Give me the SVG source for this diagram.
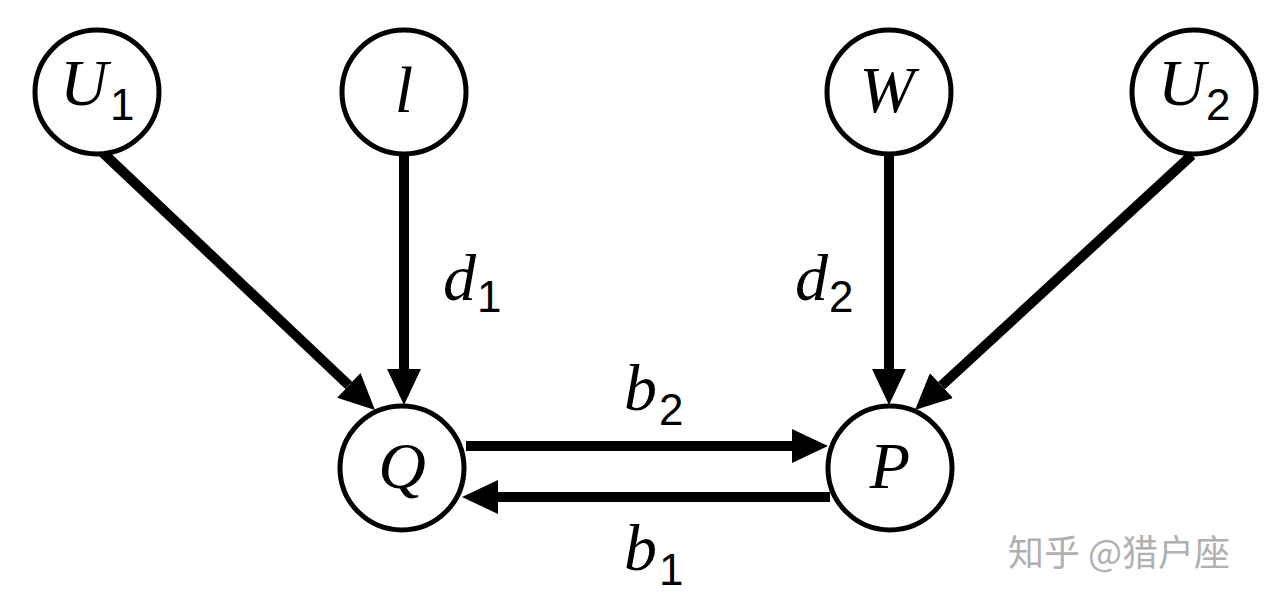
<svg xmlns="http://www.w3.org/2000/svg" width="1278" height="604" viewBox="0 0 1278 604">
<defs>
<style>
.node{fill:#fff;stroke:#000;stroke-width:5}
.edge{stroke:#000;stroke-width:10;fill:none}
.m{font-family:'Liberation Serif','DejaVu Serif',serif;font-style:italic;font-size:66px;fill:#000}
.s{font-family:'Liberation Sans','DejaVu Sans',sans-serif;font-size:44px;fill:#000}
.wm{font-family:'Noto Sans CJK SC',sans-serif;font-size:36px;fill:#b0b0b0}
</style>
<marker id="ah" viewBox="0 0 36 34" refX="0" refY="17" markerWidth="36" markerHeight="34" markerUnits="userSpaceOnUse" orient="auto">
<path d="M0,0 L36,17 L0,34 z" fill="#000"/>
</marker>
</defs>
<rect width="1278" height="604" fill="#fff"/>
<g id="connectors">
<line class="edge" x1="100" y1="150" x2="348.8" y2="385.3" marker-end="url(#ah)"/>
<line class="edge" x1="404" y1="154" x2="404" y2="369" marker-end="url(#ah)"/>
<line class="edge" x1="889" y1="154" x2="889" y2="369" marker-end="url(#ah)"/>
<line class="edge" x1="1192" y1="155" x2="941.5" y2="385.6" marker-end="url(#ah)"/>
<line class="edge" x1="466" y1="446" x2="792" y2="446" marker-end="url(#ah)"/>
<line class="edge" x1="830" y1="497" x2="498" y2="497" marker-end="url(#ah)"/>
</g>
<g id="labels">
<text class="m" x="443" y="300">d</text><text class="s" x="477" y="312">1</text>
<text class="m" x="795" y="300">d</text><text class="s" x="829" y="312">2</text>
<text class="m" x="624" y="410">b</text><text class="s" x="659" y="425">2</text>
<text class="m" x="624" y="570">b</text><text class="s" x="659" y="585">1</text>
</g>
<g id="U1"><circle class="node" cx="97" cy="92" r="62"/><text class="m" x="60" y="105">U</text><text class="s" x="110" y="120">1</text></g>
<g id="l"><circle class="node" cx="404" cy="92" r="62"/><text class="m" x="404" y="112" text-anchor="middle">l</text></g>
<g id="W"><circle class="node" cx="889" cy="92" r="62"/><text class="m" x="887" y="112" text-anchor="middle">W</text></g>
<g id="U2"><circle class="node" cx="1194" cy="92" r="62"/><text class="m" x="1158" y="105">U</text><text class="s" x="1206" y="120">2</text></g>
<g id="Q"><circle class="node" cx="402" cy="468" r="62"/><text class="m" x="402" y="488" text-anchor="middle">Q</text></g>
<g id="P"><circle class="node" cx="890" cy="468" r="62"/><text class="m" x="890" y="488" text-anchor="middle">P</text></g>
<text class="wm" x="1008" y="566">知乎 @猎户座</text>
</svg>
